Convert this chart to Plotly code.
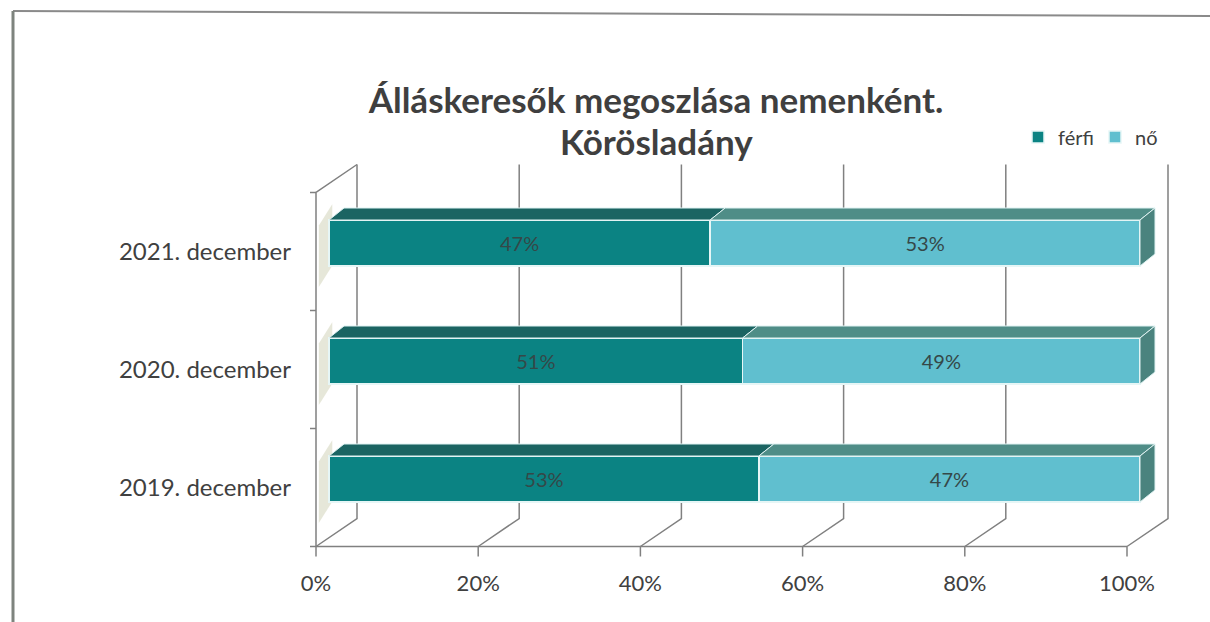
import plotly.graph_objects as go

# ---------------- data ----------------
categories = ["2019. december", "2020. december", "2021. december"]
ferfi = [53, 51, 47]
no = [47, 49, 53]
x_ticks = [0, 20, 40, 60, 80, 100]
x_ticklabels = ["0%", "20%", "40%", "60%", "80%", "100%"]
series_names = ["férfi", "nő"]
title_line1 = "Álláskeresők megoszlása nemenként."
title_line2 = "Körösladány"

# ---------------- styling / geometry ----------------
W, H = 1210, 622
ML, MR, MT, MB = 300, 10, 160, 60
PX_X = 8.11      # pixels per % unit
PX_Y = 118.0     # pixels per category unit
X0_PX = 316      # pixel of 0% on the front plane
Y0_PX = 487.5    # pixel of first category centre on the front plane

plot_w = W - ML - MR
plot_h = H - MT - MB
x_lo = (ML - X0_PX) / PX_X
x_hi = x_lo + plot_w / PX_X
y_lo = (Y0_PX - (H - MB)) / PX_Y
y_hi = y_lo + plot_h / PX_Y

# depth of the 3-D box and of the bars (in data units)
DX, DY = 41 / PX_X, 28 / PX_Y          # full box depth
BFX, BFY = 13 / PX_X, 8.5 / PX_Y       # offset of bar front face
BDX, BDY = 15 / PX_X, 12 / PX_Y        # bar depth
BAR_H = 46 / PX_Y

C_F, C_F_TOP = "#0b8383", "#1b6462"
C_N, C_N_TOP, C_N_SIDE = "#60bfcf", "#4f8d87", "#4a837e"
GRID = "#808080"
TXT = "#404040"
FONT = "Lato"

fig = go.Figure()

n = len(categories)
y_bot, y_top = -0.5, n - 0.5

# ---- back wall gridlines + floor diagonals ----
for t in x_ticks:
    fig.add_trace(go.Scatter(
        x=[t + DX, t + DX, t], y=[y_top + DY, y_bot + DY, y_bot],
        mode="lines", line=dict(color=GRID, width=1.5),
        showlegend=False, hoverinfo="skip"))
    fig.add_trace(go.Scatter(
        x=[t, t], y=[y_bot, y_bot - 10 / PX_Y],
        mode="lines", line=dict(color=GRID, width=1.5),
        showlegend=False, hoverinfo="skip"))

# floor front edge
fig.add_trace(go.Scatter(
    x=[-6 / PX_X, x_ticks[-1]], y=[y_bot, y_bot], mode="lines",
    line=dict(color=GRID, width=1.5), showlegend=False, hoverinfo="skip"))
# left front vertical edge with category ticks
fig.add_trace(go.Scatter(
    x=[0, 0, DX], y=[y_bot, y_top, y_top + DY], mode="lines",
    line=dict(color=GRID, width=1.5), showlegend=False, hoverinfo="skip"))
for k in range(n):
    yb = k + 0.5
    fig.add_trace(go.Scatter(
        x=[0, -6 / PX_X], y=[yb, yb], mode="lines",
        line=dict(color=GRID, width=1.5), showlegend=False, hoverinfo="skip"))

# faint shadows on the left wall
for i in range(n):
    fig.add_trace(go.Scatter(
        x=[0.35, 0.35, 2.0, 2.0, 0.35],
        y=[i - 0.30, i + 0.22, i + 0.40, i - 0.12, i - 0.30],
        mode="lines", fill="toself", fillcolor="rgba(165,170,120,0.28)",
        line=dict(width=0), showlegend=False, hoverinfo="skip"))

# ---- 3-D bar top / side faces (on bar axes) ----
for i in range(n):
    yt = i + BAR_H / 2
    yb = i - BAR_H / 2
    segs = [(0, ferfi[i], C_F_TOP), (ferfi[i], ferfi[i] + no[i], C_N_TOP)]
    for s, e, c in segs:
        fig.add_trace(go.Scatter(
            x=[s, e, e + BDX, s + BDX, s], y=[yt, yt, yt + BDY, yt + BDY, yt],
            mode="lines", fill="toself", fillcolor=c,
            line=dict(color="#dff2f2", width=1),
            xaxis="x2", yaxis="y2", showlegend=False, hoverinfo="skip"))
    e = ferfi[i] + no[i]
    fig.add_trace(go.Scatter(
        x=[e, e + BDX, e + BDX, e, e], y=[yb, yb + BDY, yt + BDY, yt, yb],
        mode="lines", fill="toself", fillcolor=C_N_SIDE,
        line=dict(color="#dff2f2", width=1),
        xaxis="x2", yaxis="y2", showlegend=False, hoverinfo="skip"))

# ---- front faces of bars ----
for vals, name, col in [(ferfi, series_names[0], C_F), (no, series_names[1], C_N)]:
    fig.add_trace(go.Bar(
        name=name, x=vals, y=list(range(n)), orientation="h",
        width=BAR_H, marker=dict(color=col, line=dict(color="#e6f6f6", width=1.5)),
        text=[f"{v}%" for v in vals], textposition="inside",
        insidetextanchor="middle", textangle=0,
        textfont=dict(family=FONT, size=20, color="#354848"),
        xaxis="x2", yaxis="y2", hoverinfo="skip"))


def px2paper_x(px):
    return (px - ML) / plot_w


def px2paper_y(py):
    return ((H - MB) - py) / plot_h


shapes = [
    dict(type="line", xref="paper", yref="paper",
         x0=px2paper_x(13), y0=px2paper_y(11), x1=px2paper_x(1210), y1=px2paper_y(16),
         line=dict(color="#8a8a8a", width=2)),
    dict(type="line", xref="paper", yref="paper",
         x0=px2paper_x(13), y0=px2paper_y(11), x1=px2paper_x(13), y1=px2paper_y(622),
         line=dict(color="#7e847e", width=3)),
]

annotations = [
    dict(text=f"<b>{title_line2}</b>", xref="paper", yref="paper",
         x=px2paper_x(656), y=px2paper_y(141), xanchor="center", yanchor="middle",
         showarrow=False, font=dict(family=FONT, size=35, color="#3f3f3f")),
]

fig.update_layout(
    width=W, height=H,
    margin=dict(l=ML, r=MR, t=MT, b=MB, autoexpand=False),
    paper_bgcolor="white", plot_bgcolor="white",
    barmode="stack",
    showlegend=True,
    font=dict(family=FONT, color=TXT),
    title=dict(text=f"<b>{title_line1}</b>", x=656 / W, xref="container",
               xanchor="center", y=1 - 101 / H, yref="container", yanchor="middle",
               font=dict(family=FONT, size=35, color="#3f3f3f")),
    annotations=annotations,
    legend=dict(orientation="h", x=px2paper_x(1018), y=px2paper_y(137),
                xanchor="left", yanchor="middle", traceorder="normal",
                entrywidth=32, entrywidthmode="pixels",
                font=dict(family=FONT, size=20, color=TXT),
                itemwidth=30, bgcolor="rgba(0,0,0,0)"),
    xaxis=dict(range=[x_lo, x_hi], tickvals=x_ticks, ticktext=x_ticklabels,
               showgrid=False, zeroline=False, showline=False, ticks="",
               tickfont=dict(family=FONT, size=22, color=TXT),
               ticklabelstandoff=6, automargin=False,
               fixedrange=True, domain=[0, 1]),
    yaxis=dict(range=[y_lo, y_hi], tickvals=list(range(n)), ticktext=categories,
               showgrid=False, zeroline=False, showline=False, ticks="",
               tickfont=dict(family=FONT, size=24, color=TXT),
               ticklabelstandoff=8, automargin=False,
               fixedrange=True, domain=[0, 1]),
    xaxis2=dict(range=[x_lo - BFX, x_hi - BFX], overlaying="x", anchor="y2",
                visible=False, fixedrange=True),
    yaxis2=dict(range=[y_lo - BFY, y_hi - BFY], overlaying="y", anchor="x2",
                visible=False, fixedrange=True),
    shapes=shapes,
)

fig.write_html("out.html", config={"displayModeBar": False},
               post_script="document.body.style.margin='0';document.body.style.padding='0';")
